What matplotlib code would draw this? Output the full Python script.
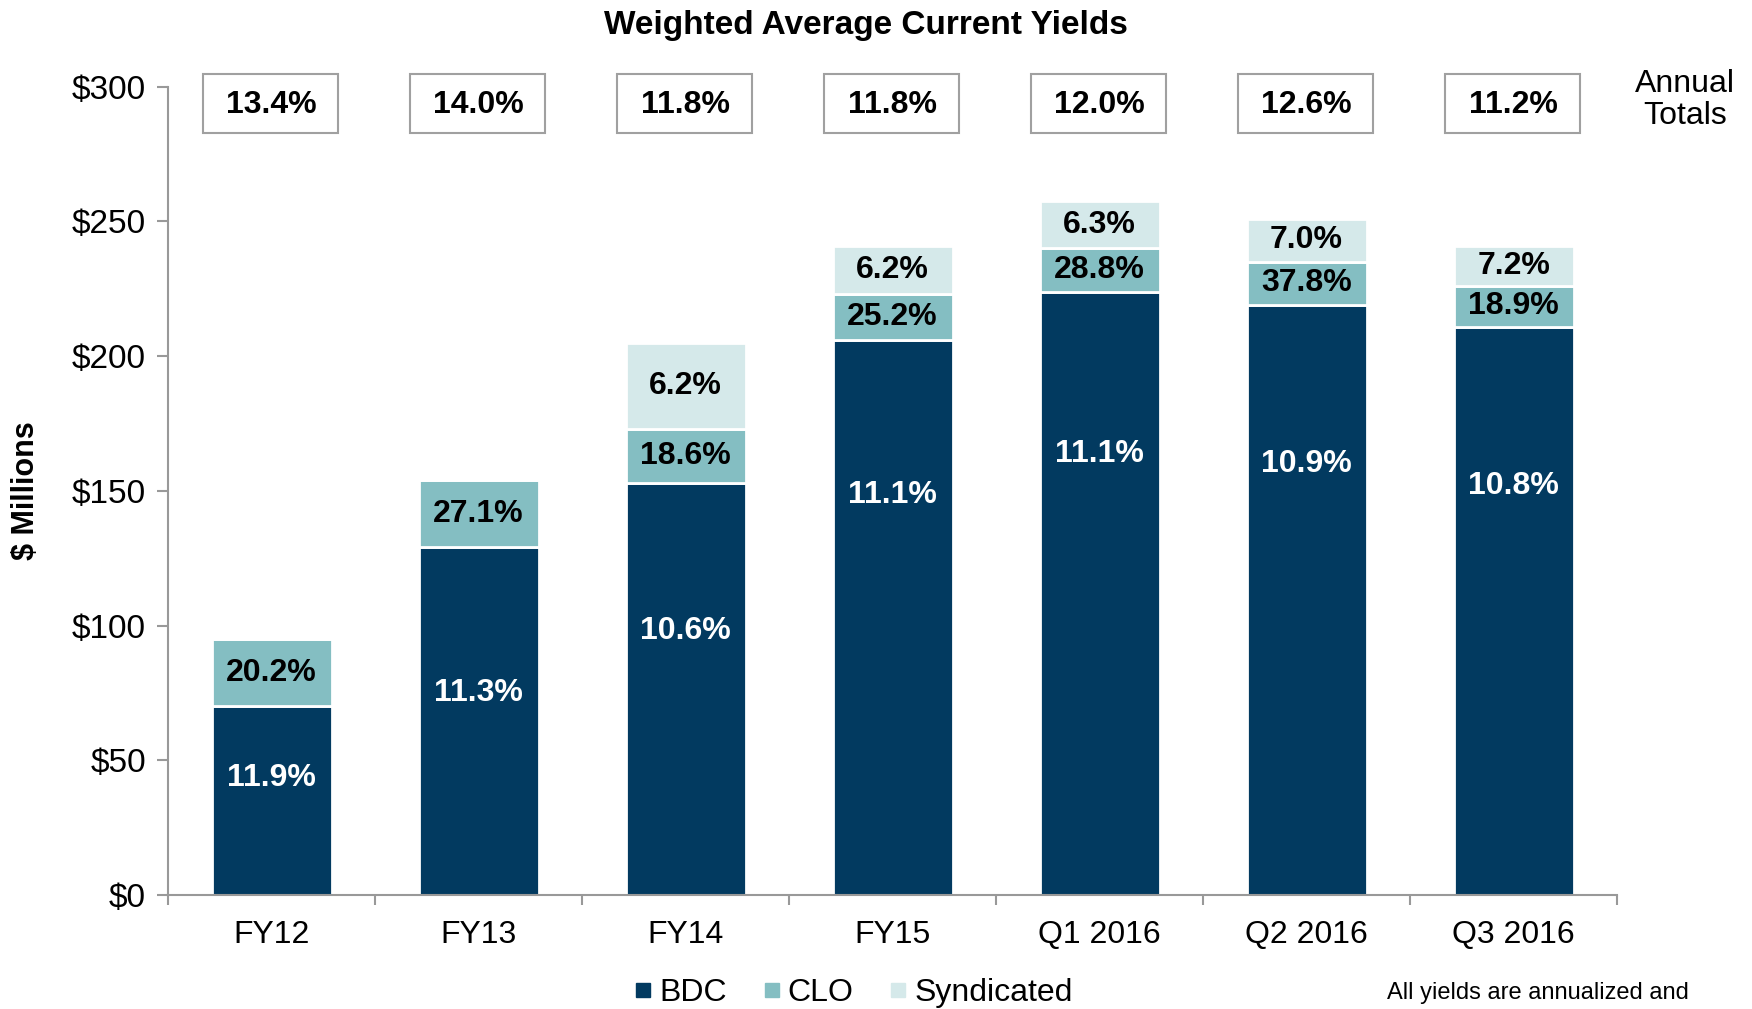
import numpy as np
import matplotlib.pyplot as plt
from matplotlib.patches import Rectangle
from matplotlib.lines import Line2D

plt.rcParams['font.family'] = ['Liberation Sans', 'DejaVu Sans']

categories = ['FY12', 'FY13', 'FY14', 'FY15', 'Q1 2016', 'Q2 2016', 'Q3 2016']
bdc = [70, 129, 153, 206, 224, 219, 211]
clo = [25, 25, 20, 17, 16, 16, 15]
synd = [0, 0, 32, 18, 17.5, 16, 15]

bdc_yield = [11.9, 11.3, 10.6, 11.1, 11.1, 10.9, 10.8]
clo_yield = [20.2, 27.1, 18.6, 25.2, 28.8, 37.8, 18.9]
synd_yield = [None, None, 6.2, 6.2, 6.3, 7.0, 7.2]
total_yield = [13.4, 14.0, 11.8, 11.8, 12.0, 12.6, 11.2]

c_bdc = '#023A60'
c_clo = '#84BEC2'
c_synd = '#D5E9EA'

fig = plt.figure(figsize=(17.52, 10.09), dpi=100)
ax = fig.add_axes([0.096, 0.113, 0.827, 0.801])

x = np.arange(len(categories))
w = 0.58
bdc = np.array(bdc, dtype=float)
clo = np.array(clo, dtype=float)
synd = np.array(synd, dtype=float)

ax.bar(x, bdc, w, color=c_bdc, edgecolor='white', linewidth=2)
ax.bar(x, clo, w, bottom=bdc, color=c_clo, edgecolor='white', linewidth=2)
ax.bar(x, synd, w, bottom=bdc + clo, color=c_synd, edgecolor='white', linewidth=2)

# label heights inside the BDC segment (fraction of segment)
bdc_frac = [0.62, 0.58, 0.64, 0.72, 0.73, 0.73, 0.72]
lab_fs = 23

for i in range(len(categories)):
    ax.text(x[i], bdc[i] * bdc_frac[i], f'{bdc_yield[i]:.1f}%', ha='center', va='center',
            color='white', fontsize=lab_fs, fontweight='bold')
    ax.text(x[i], bdc[i] + clo[i] / 2, f'{clo_yield[i]:.1f}%', ha='center', va='center',
            color='black', fontsize=lab_fs, fontweight='bold')
    if synd_yield[i] is not None:
        ax.text(x[i], bdc[i] + clo[i] + synd[i] / 2, f'{synd_yield[i]:.1f}%', ha='center',
                va='center', color='black', fontsize=lab_fs, fontweight='bold')
    # annual total box
    ax.add_patch(Rectangle((x[i] - 0.33, 283), 0.65, 21.6, facecolor='white',
                           edgecolor='#A0A0A0', linewidth=1.5, clip_on=False, zorder=3))
    ax.text(x[i], 293.3, f'{total_yield[i]:.1f}%', ha='center', va='center',
            fontsize=lab_fs, fontweight='bold', zorder=4)

ax.text(6.83, 295, 'Annual\nTotals', ha='center', va='center', fontsize=23,
        linespacing=1.1, clip_on=False)

ax.set_xlim(-0.5, 6.5)
ax.set_ylim(0, 300)
ax.set_yticks(np.arange(0, 301, 50))
ax.set_yticklabels([f'${v}' for v in range(0, 301, 50)], fontsize=24)
ax.set_xticks(x)
ax.set_xticklabels(categories, fontsize=23)
ax.set_xticks(np.arange(-0.5, 7, 1), minor=True)
ax.tick_params(axis='x', which='major', length=0, pad=18)
ax.tick_params(axis='x', which='minor', length=7, color='#999999', width=1.5, direction='out')
ax.tick_params(axis='y', length=8, color='#999999', width=1.5, pad=8)

for s in ['top', 'right']:
    ax.spines[s].set_visible(False)
for s in ['left', 'bottom']:
    ax.spines[s].set_color('#999999')
    ax.spines[s].set_linewidth(1.5)

ax.set_ylabel('$ Millions', fontsize=22, fontweight='bold', labelpad=22)

fig.text(0.494, 0.975, 'Weighted Average Current Yields', ha='center', va='center',
         fontsize=24, fontweight='bold')

handles = [Line2D([], [], marker='s', linestyle='', markersize=10, color=c)
           for c in [c_bdc, c_clo, c_synd]]
fig.legend(handles, ['BDC', 'CLO', 'Syndicated'], loc='center', bbox_to_anchor=(0.486, 0.016),
           ncol=3, frameon=False, fontsize=23, handletextpad=0.1, columnspacing=1.0,
           handlelength=0.8)

fig.text(0.878, 0.016, 'All yields are annualized and', ha='center', va='center', fontsize=17)

fig.savefig('out.png', dpi=100)
